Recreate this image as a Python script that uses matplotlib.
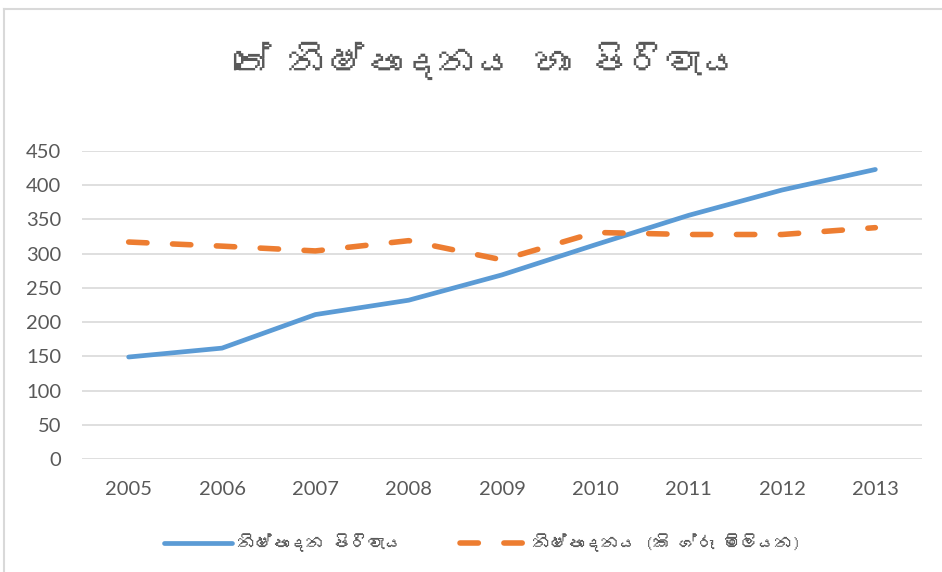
import matplotlib
matplotlib.use("Agg")
import matplotlib.pyplot as plt
from matplotlib import font_manager
from matplotlib.lines import Line2D

years = ["2005", "2006", "2007", "2008", "2009", "2010", "2011", "2012", "2013"]
cost = [149, 162, 211, 232, 269, 313, 356, 393, 423]
production = [317, 311, 304, 319, 291, 331, 328, 328, 338]
yticks = [0, 50, 100, 150, 200, 250, 300, 350, 400, 450]

title_text = "තේ නිෂ්පාදනය හා පිරිවැය"
label_cost = "නිෂ්පාදන පිරිවැය"
label_prod = "නිෂ්පාදනය (කි ග්රෑ මිලියන)"

# find a font with Sinhala coverage if any is installed
sinhala_family = None
try:
    from fontTools.ttLib import TTFont
    for fe in font_manager.fontManager.ttflist:
        try:
            tf = TTFont(fe.fname, fontNumber=0, lazy=True)
            cmap = tf.getBestCmap()
            if cmap and 0x0DB1 in cmap and 0x0DCF in cmap:
                sinhala_family = fe.name
                break
        except Exception:
            pass
except Exception:
    pass

text_fams = ([sinhala_family] if sinhala_family else []) + ["DejaVu Sans"]
num_fams = ["Lato", "DejaVu Sans"]

gray = "#595959"
blue = "#5b9bd5"
orange = "#ed7d31"

fig = plt.figure(figsize=(9.42, 5.72), dpi=100)
W, H = 942, 572
ax = fig.add_axes([82 / W, 1 - 459 / H, 840 / W, 308 / H])

x = list(range(len(years)))
ax.plot(x, cost, color=blue, lw=3.4, solid_capstyle="round", solid_joinstyle="round",
        label=label_cost)
ax.plot(x, production, color=orange, lw=4.0, dashes=(3.3, 4.6), dash_capstyle="round",
        dash_joinstyle="round", label=label_prod)

ax.set_xlim(-0.5, len(years) - 0.5)
ax.set_ylim(0, 450)
ax.set_yticks(yticks)
ax.set_xticks(x)
ax.set_xticklabels(years)
ax.grid(axis="y", color="#d9d9d9", lw=1.2)
ax.set_axisbelow(True)
for s in ax.spines.values():
    s.set_visible(False)
ax.tick_params(axis="both", length=0, colors=gray, labelsize=14.5)
ax.tick_params(axis="y", pad=15)
ax.tick_params(axis="x", pad=16)
for lab in ax.get_xticklabels() + ax.get_yticklabels():
    lab.set_family(num_fams)

fig.text(486 / W, 1 - 61 / H, title_text, ha="center", va="center", fontsize=27,
         color=gray, family=text_fams)

handles = [
    Line2D([], [], color=blue, lw=3.4, solid_capstyle="round"),
    Line2D([], [], color=orange, lw=4.0, dashes=(3.3, 4.6), dash_capstyle="round"),
]
leg = fig.legend(handles, [label_cost, label_prod], loc="center",
                 bbox_to_anchor=(483 / W, 1 - 543 / H), ncol=2, frameon=False,
                 handlelength=3.9, handletextpad=0.3, columnspacing=3.3,
                 prop={"family": text_fams, "size": 12.5})
for t in leg.get_texts():
    t.set_color(gray)

# outer chart border (top and left visible)
fig.add_artist(Line2D([4 / W, 1], [1 - 9 / H, 1 - 9 / H], color="#d9d9d9", lw=1.5,
                      transform=fig.transFigure))
fig.add_artist(Line2D([4 / W, 4 / W], [0, 1 - 9 / H], color="#d9d9d9", lw=1.5,
                      transform=fig.transFigure))

fig.savefig("out.png", dpi=100, facecolor="white")
